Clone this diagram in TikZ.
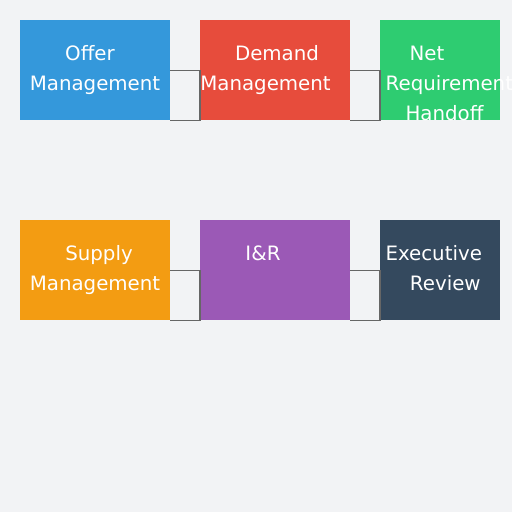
\documentclass[tikz,border=0pt]{standalone}
\usepackage{fontspec}
\setmainfont{DejaVu Sans}
\definecolor{pagegray}{HTML}{F2F3F5}
\definecolor{offerblue}{HTML}{3498DB}
\definecolor{demandred}{HTML}{E74C3C}
\definecolor{netgreen}{HTML}{2ECC71}
\definecolor{supplyorange}{HTML}{F39C12}
\definecolor{irpurple}{HTML}{9B59B6}
\definecolor{execnavy}{HTML}{34495E}
\definecolor{linkgray}{HTML}{666666}
\tikzset{
  box/.style={minimum width=150pt, minimum height=100pt, inner sep=0pt, anchor=north west, draw=none},
  boxtext/.style={text=white, anchor=base, inner sep=0pt, font=\fontsize{19.8}{24}\selectfont},
  link/.style={draw=linkgray, line width=1.2pt}
}
\begin{document}
\begin{tikzpicture}[x=1pt, y=-1pt]
\def\xa{20};
\def\xb{200};
\def\xc{380};

\def\ya{20};
\def\yb{220};

\useasboundingbox[fill=pagegray] (0,0) rectangle (512,512);

% top row
\node[box, fill=offerblue] (offer) at (\xa, \ya) {};
\node[box, fill=demandred] (demand) at (\xb, \ya) {};
\node[box, fill=netgreen, minimum width=120pt] (net) at (\xc, \ya) {};

% bottom row
\node[box, fill=supplyorange] (supply) at (\xa, \yb) {};
\node[box, fill=irpurple] (ir) at (\xb, \yb) {};
\node[box, fill=execnavy, minimum width=120pt] (exec) at (\xc, \yb) {};

\draw[link] (offer.east) -- (offer.east -| demand.west) -- (demand.south west) -- (offer.south east);
\draw[link] (demand.east) -- (demand.east -| net.west) -- (net.south west) -- (demand.south east);
\draw[link] (supply.east) -- (supply.east -| ir.west) -- (ir.south west) -- (supply.south east);
\draw[link] (ir.east) -- (ir.east -| exec.west) -- (exec.south west) -- (ir.south east);

\node[boxtext] (offer1) at (90, 60) {Offer};
\node[boxtext] (offer2) at (95, 90) {Management};

\node[boxtext] (demand1) at (277, 60) {Demand};
\node[boxtext] (demand2) at (265.5, 90) {Management};

\node[boxtext] (net1) at (427, 60) {Net};
\node[boxtext, anchor=base west] (net2) at (385.5, 90) {Requirement};
\node[boxtext] (net3) at (444.5, 120) {Handoff};

\node[boxtext] (supply1) at (99, 260) {Supply};
\node[boxtext] (supply2) at (95, 290) {Management};

\node[boxtext] (ir1) at (263, 260) {I\&R};

\node[boxtext] (exec1) at (433.7, 260) {Executive};
\node[boxtext] (exec2) at (445.3, 290) {Review};

\end{tikzpicture}
\end{document}
